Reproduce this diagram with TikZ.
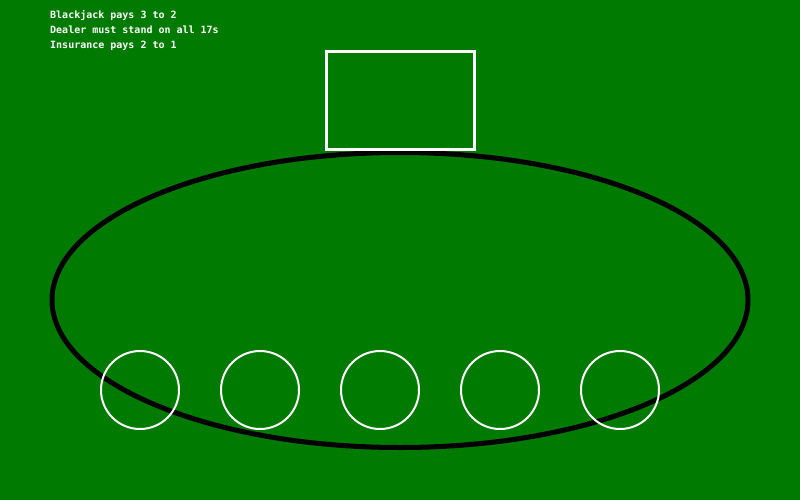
\documentclass[tikz,border=0pt]{standalone}
\usepackage{fontspec}
\newfontfamily\monofont{DejaVu Sans Mono}
\definecolor{felt}{RGB}{0,122,0}
\tikzset{
  rule/.style={anchor=base west, text=white, inner sep=0pt, font=\monofont\bfseries\fontsize{10}{12}\selectfont},
  tablerim/.style={draw=black, line width=5pt},
  dealerbox/.style={draw=white, line width=3pt},
  spot/.style={draw=white, line width=2pt}
}
\begin{document}
\begin{tikzpicture}[x=1pt,y=-1pt]
\fill[felt] (0,0) rectangle (800,500);
\useasboundingbox (0,0) rectangle (800,500);
\node[rule] (r1) at (50,19) {Blackjack pays 3 to 2};
\node[rule] (r2) at (50,34) {Dealer must stand on all 17s};
\node[rule] (r3) at (50,49) {Insurance pays 2 to 1};
\draw[tablerim] (400,300) ellipse [x radius=348, y radius=147.5];
\draw[dealerbox] (326.5,51.5) rectangle (474,149.5);
\foreach \i/\x in {1/140,2/260,3/380,4/500,5/620}{
  \draw[spot] (\x,390) circle [radius=39];
}
\end{tikzpicture}
\end{document}
